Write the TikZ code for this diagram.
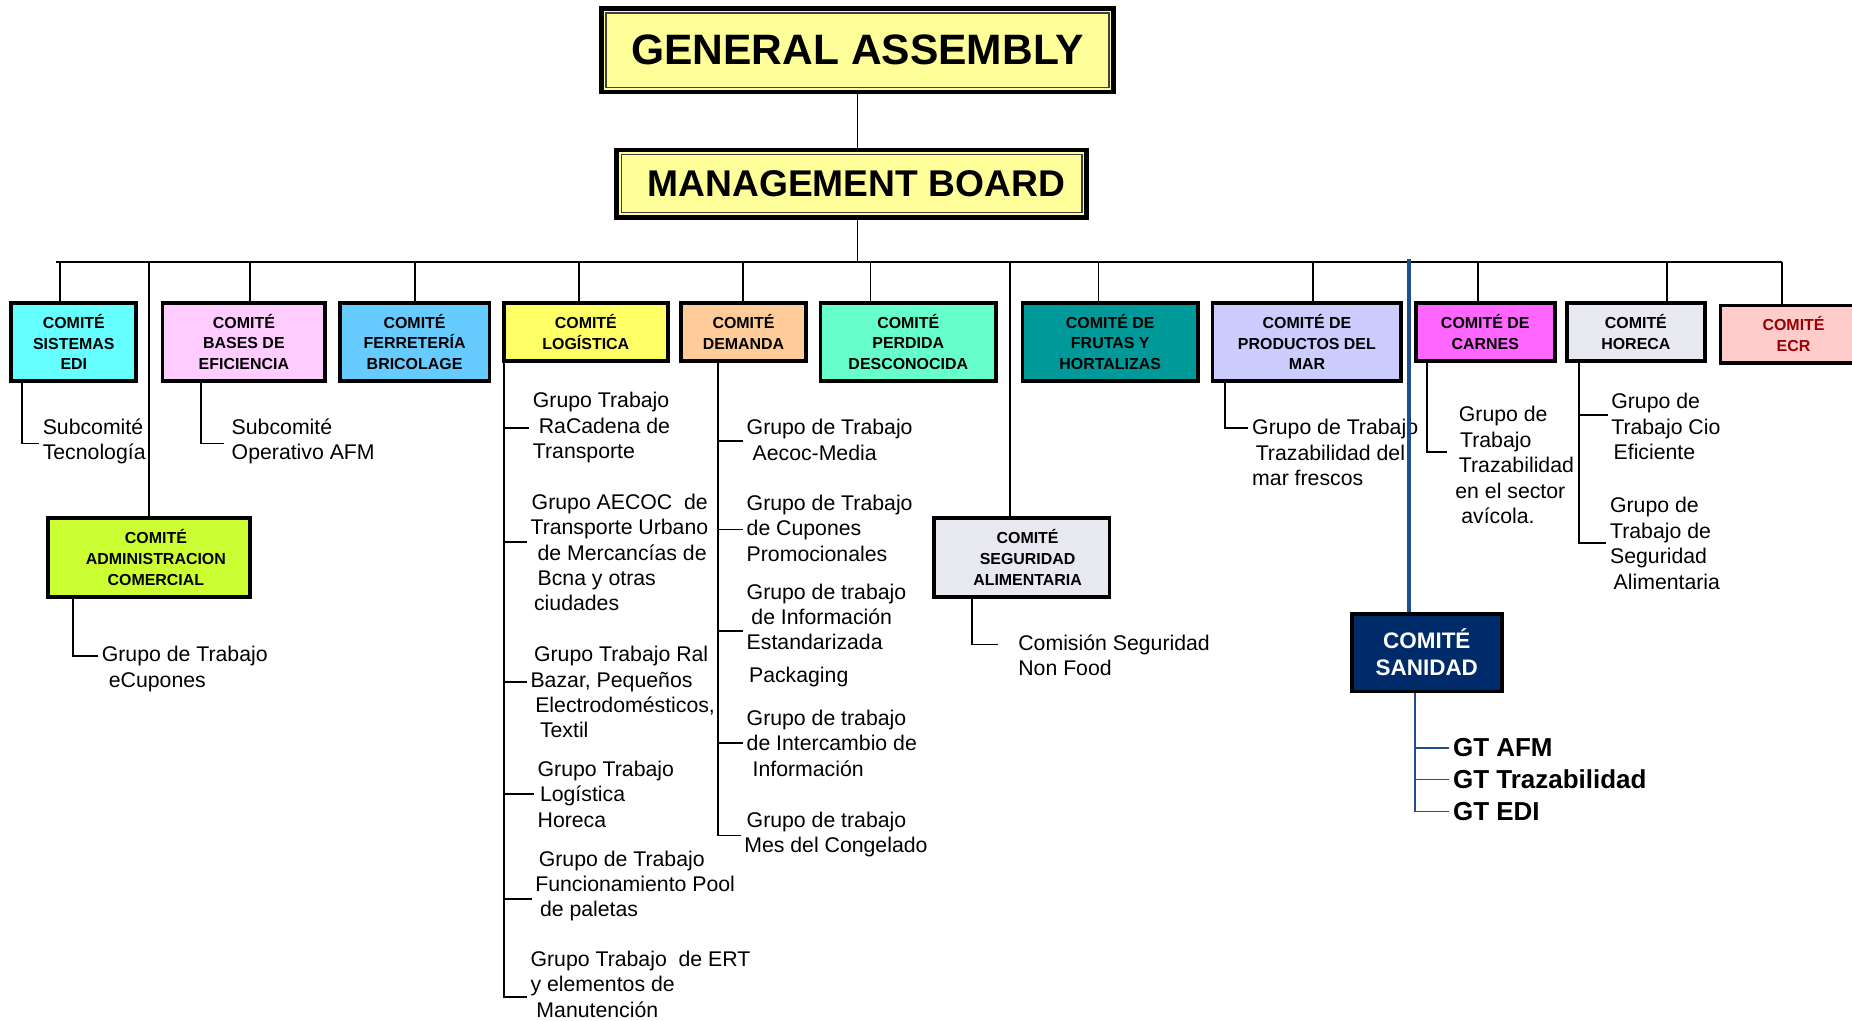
\documentclass[tikz,border=0pt]{standalone}
\usepackage{fontspec}
\setmainfont{Liberation Sans}
\usetikzlibrary{positioning}

\definecolor{amarillo}{HTML}{FFFF99}
\definecolor{cEDI}{HTML}{66FFFF}
\definecolor{cBases}{HTML}{FFCCFF}
\definecolor{cFerr}{HTML}{66CCFF}
\definecolor{cLog}{HTML}{FFFF66}
\definecolor{cDem}{HTML}{FFCC99}
\definecolor{cPerd}{HTML}{66FFCC}
\definecolor{cFrut}{HTML}{009999}
\definecolor{cProd}{HTML}{CCCCFF}
\definecolor{cCarn}{HTML}{FF66FF}
\definecolor{cGris}{HTML}{E8E8F0}
\definecolor{cEcr}{HTML}{FFCCCC}
\definecolor{cEcrTxt}{HTML}{990000}
\definecolor{cAdm}{HTML}{CCFF33}
\definecolor{cSan}{HTML}{002B6B}
\definecolor{azul}{HTML}{1F4E8F}

\begin{document}
\begin{tikzpicture}[x=1pt,y=-1pt,
  caja/.style={draw, line width=3.2pt, align=center, inner sep=1pt,
    font=\bfseries\fontsize{13.5}{17.5}\selectfont},
  grande/.style={caja, line width=4pt, fill=amarillo},
  grupo/.style={anchor=north west, align=left, inner xsep=3pt, inner ysep=0pt,
    font=\fontsize{18}{21.5}\selectfont},
  gt/.style={anchor=west, inner xsep=3pt, inner ysep=0pt,
    font=\bfseries\fontsize{22}{27}\selectfont},
  rama/.style={line width=1.6pt}]

  \fill[white] (0,0) rectangle (1568,864);
  \useasboundingbox (0,0) rectangle (1568,864);

  % cabecera
  \node[grande, minimum width=434, minimum height=71,
    font=\bfseries\fontsize{36}{40}\selectfont] (ga) at (726,42.5) {GENERAL ASSEMBLY};
  \node[grande, minimum width=398, minimum height=57,
    font=\bfseries\fontsize{31.5}{36}\selectfont] (mb) at (721,155.5) {\hspace*{8pt}MANAGEMENT BOARD};
  \draw[line width=1pt, black!75] ([xshift=6pt,yshift=-6pt]ga.north west) rectangle ([xshift=-6pt,yshift=6pt]ga.south east);
  \draw[line width=1pt, black!75] ([xshift=6pt,yshift=-6pt]mb.north west) rectangle ([xshift=-6pt,yshift=6pt]mb.south east);

  % comites
  \node[caja, fill=cEDI, minimum width=105.8, minimum height=65.8] (edi) at (62.5,289.5) {COMITÉ\\SISTEMAS\\EDI};
  \node[caja, fill=cBases, minimum width=137.8, minimum height=65.8] (bases) at (206.5,289.5) {COMITÉ\\BASES DE\\EFICIENCIA};
  \node[caja, fill=cFerr, minimum width=126.8, minimum height=65.8] (ferr) at (351,289.5) {COMITÉ\\FERRETERÍA\\BRICOLAGE};
  \node[caja, fill=cLog, minimum width=138.8, minimum height=48.8] (log) at (496,281) {COMITÉ\\LOGÍSTICA};
  \node[caja, fill=cDem, minimum width=105.8, minimum height=48.8] (dem) at (629.5,281) {COMITÉ\\DEMANDA};
  \node[caja, fill=cPerd, minimum width=148.8, minimum height=65.8] (perd) at (769,289.5) {COMITÉ\\PERDIDA\\DESCONOCIDA};
  \node[caja, fill=cFrut, minimum width=148.8, minimum height=65.8] (frut) at (940,289.5) {COMITÉ DE\\FRUTAS Y\\HORTALIZAS};
  \node[caja, fill=cProd, minimum width=159.8, minimum height=65.8] (prod) at (1106.5,289.5) {COMITÉ DE\\PRODUCTOS DEL\\MAR};
  \node[caja, fill=cCarn, minimum width=117.8, minimum height=48.8] (carn) at (1257.5,281) {COMITÉ DE\\CARNES};
  \node[caja, fill=cGris, minimum width=116.8, minimum height=48.8] (hor) at (1385,281) {COMITÉ\\HORECA};
  \node[caja, fill=cEcr, text=cEcrTxt, minimum width=123.8, minimum height=48.8] (ecr) at (1518.5,283) {COMITÉ\\ECR};
  \node[caja, fill=cAdm, minimum width=170.8, minimum height=66.8] (adm) at (126,472) {\hspace*{12pt}COMITÉ\\\hspace*{12pt}ADMINISTRACION\\\hspace*{12pt}COMERCIAL};
  \node[caja, fill=cGris, minimum width=148.8, minimum height=66.8] (seg) at (865,472) {\hspace*{10pt}COMITÉ\\\hspace*{10pt}SEGURIDAD\\\hspace*{10pt}ALIMENTARIA};
  \node[caja, fill=cSan, text=white, minimum width=126.8, minimum height=65.8,
    font=\bfseries\fontsize{19}{23}\selectfont] (san) at (1208,552.5) {COMITÉ\\SANIDAD};

  % grupos de trabajo
  \node[grupo] (tec) at (33,354) {Subcomité\\Tecnología};
  \node[grupo] (afm) at (193,354) {Subcomité\\Operativo AFM};
  \node[grupo] (ecu) at (83,547) {Grupo de Trabajo\\\hspace*{6pt}eCupones};

  \node[grupo] (lg1) at (448,332) {Grupo Trabajo\\\hspace*{5pt}RaCadena de\\Transporte};
  \node[grupo] (lg2) at (446,418) {\hspace*{1pt}Grupo AECOC\ \ de\\Transporte Urbano\\\hspace*{6pt}de Mercancías de\\\hspace*{6pt}Bcna y otras\\\hspace*{3pt}ciudades};
  \node[grupo] (lg3) at (446,547) {\hspace*{3pt}Grupo Trabajo Ral\\Bazar, Pequeños\\\hspace*{4pt}Electrodomésticos,\\\hspace*{8pt}Textil};
  \node[grupo] (lg4) at (452,644) {Grupo Trabajo\\\hspace*{2pt}Logística\\Horeca};
  \node[grupo] (lg5) at (450,720) {\hspace*{3pt}Grupo de Trabajo\\Funcionamiento Pool\\\hspace*{4pt}de paletas};
  \node[grupo] (lg6) at (446,805) {Grupo Trabajo\ \ de ERT\\y elementos de\\\hspace*{5pt}Manutención};

  \node[grupo] (dm1) at (629,355) {Grupo de Trabajo\\\hspace*{5pt}Aecoc-Media};
  \node[grupo] (dm2) at (629,419) {Grupo de Trabajo\\de Cupones\\Promocionales};
  \node[grupo] (dm3) at (629,494) {Grupo de trabajo\\\hspace*{4pt}de Información\\Estandarizada};
  \node[grupo] (pkg) at (631,565) {Packaging};
  \node[grupo] (dm4) at (629,601) {Grupo de trabajo\\de Intercambio de\\\hspace*{5pt}Información};
  \node[grupo] (dm5) at (627,687) {\hspace*{2pt}Grupo de trabajo\\Mes del Congelado};

  \node[grupo] (cns) at (859,537) {Comisión Seguridad\\Non Food};
  \node[grupo] (mar) at (1057,355) {Grupo de Trabajo\\\hspace*{3pt}Trazabilidad del\\mar frescos};
  \node[grupo] (avi) at (1229,344) {\hspace*{3pt}Grupo de\\\hspace*{4pt}Trabajo\\\hspace*{3pt}Trazabilidad\\en el sector\\\hspace*{5pt}avícola.};
  \node[grupo] (cio) at (1361,333) {Grupo de\\Trabajo Cio\\\hspace*{2pt}Eficiente};
  \node[grupo] (sal) at (1360,421) {Grupo de\\Trabajo de\\Seguridad\\\hspace*{3pt}Alimentaria};

  \node[gt] (gt1) at (1227,633) {GT AFM};
  \node[gt] (gt2) at (1227,660) {GT Trazabilidad};
  \node[gt] (gt3) at (1227,687) {GT EDI};

  % lineas
  \coordinate (bus) at (47,222);
  \coordinate (busR) at (1509,222);
  \draw[rama] (ga.south) -- (ga.south |- mb.north);
  \draw[rama] (ga.south |- mb.south) -- (ga.south |- bus);
  \draw[rama] (bus) -- (busR);

  \foreach \c/\dx in {edi/-11.5, bases/5.5, ferr/0, log/-6, dem/-0.5, perd/-32,
                      frut/-10, prod/5.5, carn/-6.5, hor/26, ecr/-9.5}
  {
    \path ([xshift=\dx pt]\c.north) coordinate (t);
    \draw[rama] (t) -- (t |- bus);
  }
  \draw[rama] (adm.north) -- (adm.north |- bus);
  \path ([xshift=-10pt]seg.north) coordinate (t);
  \draw[rama] (t) -- (t |- bus);
  \path ([xshift=-15pt]san.north) coordinate (t);
  \draw[line width=3pt, azul, shorten >=-3pt] (t) -- (t |- bus);

  \path ([xshift=-43.5pt]edi.south) coordinate (eds);
  \draw[rama] (eds) |- ([yshift=-2pt]tec.west);
  \path ([xshift=-36.5pt]bases.south) coordinate (bss);
  \draw[rama, shorten >=3pt] (bss) |- ([yshift=-2pt]afm.west);
  \path ([xshift=-64pt]adm.south) coordinate (ads);
  \draw[rama] (ads) |- ([yshift=11pt]ecu.west);

  \path ([xshift=-69pt]log.south) coordinate (lgs);
  \draw[rama] (lgs) |- ([yshift=-11pt]lg6.west);
  \foreach \n/\s in {lg1/0, lg2/9, lg3/9, lg4/0, lg5/-11}
  {
    \path ([yshift=\s pt]\n.west) coordinate (e);
    \draw[rama] (e -| lgs) -- (e);
  }

  \path ([xshift=-21.5pt]dem.south) coordinate (dms);
  \draw[rama] (dms) |- ([yshift=-1pt]dm5.west);
  \foreach \n/\s in {dm1/-1, dm2/-1, dm3/-12, dm4/0}
  {
    \path ([yshift=\s pt]\n.west) coordinate (e);
    \draw[rama] (e -| dms) -- (e);
  }

  \path ([xshift=-42pt]seg.south) coordinate (sgs);
  \draw[rama, shorten >=14pt] (sgs) |- ([yshift=9pt]cns.west);
  \path ([xshift=-69.5pt]prod.south) coordinate (prs);
  \draw[rama] (prs) |- ([yshift=21pt]mar.west);
  \path ([xshift=-49.5pt]carn.south) coordinate (cas);
  \draw[rama, shorten >=4pt] (cas) |- ([yshift=11pt]avi.west);
  \path ([xshift=-48pt]hor.south) coordinate (hos);
  \draw[rama] (hos) |- (sal.west);
  \path ([yshift=10pt]cio.west) coordinate (e);
  \draw[rama] (e -| hos) -- (e);

  \path ([xshift=-10pt]san.south) coordinate (sns);
  \draw[line width=1.5pt, azul] (sns) |- (gt3.west);
  \draw[line width=1.5pt, azul] (sns |- gt1.west) -- (gt1.west);
  \draw[line width=1.5pt, azul] (sns |- gt2.west) -- (gt2.west);
\end{tikzpicture}
\end{document}
